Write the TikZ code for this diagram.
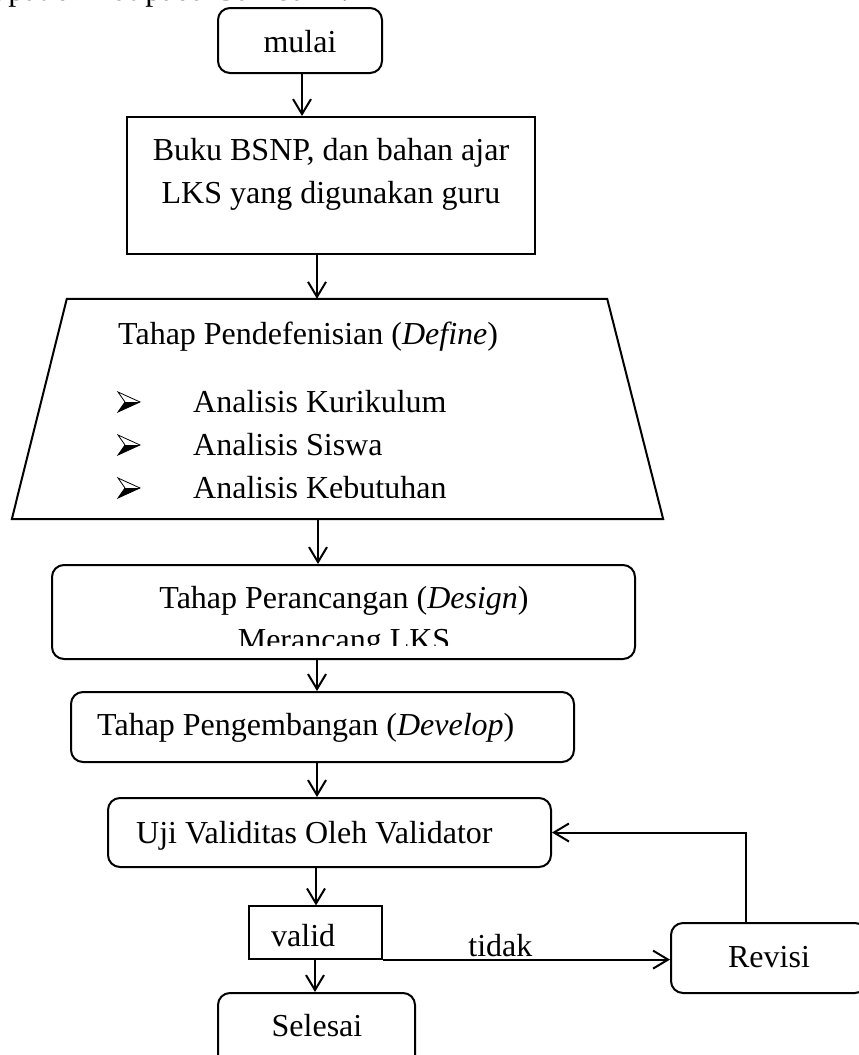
\documentclass[tikz,border=0pt]{standalone}
\usepackage{fontspec}
\setmainfont{Liberation Serif}
\usetikzlibrary{arrows.meta}
\begin{document}
\begin{tikzpicture}[x=1pt,y=-1pt,
  txt/.style={font=\fontsize{32}{40}\selectfont, inner sep=0pt, anchor=base},
  box/.style={draw, line width=2pt, inner sep=0pt},
  rbox/.style={box, rounded corners=12pt},
  ghost/.style={inner sep=0pt},
  arr/.style={line width=2pt, -{Straight Barb[length=15pt,width=18pt,line width=2pt]}},
  bul/.style={line width=0.8pt, fill=white}]
\useasboundingbox (0,0) rectangle (859,1055);

% partially visible text line at top (cut by the page edge, as in the reference)
\node[txt, anchor=base west] (topline) at (-22,0) {dapat dilihat pada Gambar 1.};

% shapes
\node[rbox, minimum width=164pt, minimum height=65pt] (mulai) at (300,40.5) {};
\node[box, minimum width=408pt, minimum height=137pt] (bsnp) at (331,185.5) {};
\node[ghost, minimum width=651pt, minimum height=220pt] (def) at (337.5,409) {};
\draw[line width=2pt, line join=miter]
  ([xshift=55pt]def.north west) -- ([xshift=-56pt]def.north east)
  -- (def.south east) -- (def.south west) -- cycle;
\node[rbox, minimum width=583pt, minimum height=94pt] (design) at (343.5,612) {};
\node[rbox, minimum width=503pt, minimum height=70pt] (develop) at (322.5,727) {};
\node[rbox, minimum width=443pt, minimum height=69pt] (uji) at (329.5,832.5) {};
\node[draw, line width=1.2pt, inner sep=0pt, minimum width=133pt, minimum height=53pt] (valid) at (315.5,932.5) {};
\node[rbox, minimum width=196pt, minimum height=70pt] (revisi) at (769,958) {};
\node[rbox, minimum width=197pt, minimum height=87pt] (selesai) at (316.5,1036.5) {};

% texts
\node[txt] (tmulai) at (300,52) {mulai};
\node[txt] (tbsnp1) at (331,160) {Buku BSNP, dan bahan ajar};
\node[txt] (tbsnp2) at (331,203) {LKS yang digunakan guru};
\node[txt, anchor=base west] (tdef) at (118,344) {Tahap Pendefenisian (\textit{Define})};
\foreach \b in {412,455,498}{
  \draw[bul] (118,\b-20) -- (140,\b-10) -- (118,\b) -- (125,\b-10) -- cycle;
  \fill (125,\b-10) -- (140,\b-10) -- (118,\b) -- cycle;
}
\node[txt, anchor=base west] (tk1) at (193,412) {Analisis Kurikulum};
\node[txt, anchor=base west] (tk2) at (193,455) {Analisis Siswa};
\begin{scope}
  \clip (0,0) rectangle (859,497);
  \node[txt, anchor=base west] (tk3) at (193,498) {Analisis Kebutuhan};
\end{scope}
\node[txt] (tdes1) at (344,608) {Tahap Perancangan (\textit{Design})};
\begin{scope}
  \clip (0,0) rectangle (859,645);
  \node[txt] (tdes2) at (344,650) {Merancang LKS};
\end{scope}
\node[txt, anchor=base west] (tdev) at (97,735) {Tahap Pengembangan (\textit{Develop})};
\node[txt, anchor=base west] (tuji) at (136,843) {Uji Validitas Oleh Validator};
\node[txt, anchor=base west] (tvalid) at (271,946) {valid};
\node[txt] (trevisi) at (769,967) {Revisi};
\node[txt] (tselesai) at (317,1036) {Selesai};

% connector x positions
\coordinate (ca) at (302,0);
\coordinate (cb) at (317,0);
\coordinate (cc) at (318,0);
\coordinate (cf) at (316,0);
\coordinate (cg) at (315,0);
\coordinate (ch) at (746,0);

\draw[arr] (mulai.south -| ca) -- (bsnp.north -| ca);
\draw[arr] (bsnp.south -| cb) -- (def.north -| cb);
\draw[arr] (def.south -| cc) -- (design.north -| cc);
\draw[arr] (design.south -| cb) -- (develop.north -| cb);
\draw[arr] (develop.south -| cb) -- (uji.north -| cb);
\draw[arr] (uji.south -| cf) -- (valid.north -| cf);
\draw[arr] (valid.south -| cg) -- (selesai.north -| cg);
\draw[arr] (valid.south east) -- (valid.south east -| revisi.west)
  node[txt, pos=0.41, yshift=3pt] (tidak) {tidak};
\draw[arr] (revisi.north -| ch) |- (uji.east);
\end{tikzpicture}
\end{document}
